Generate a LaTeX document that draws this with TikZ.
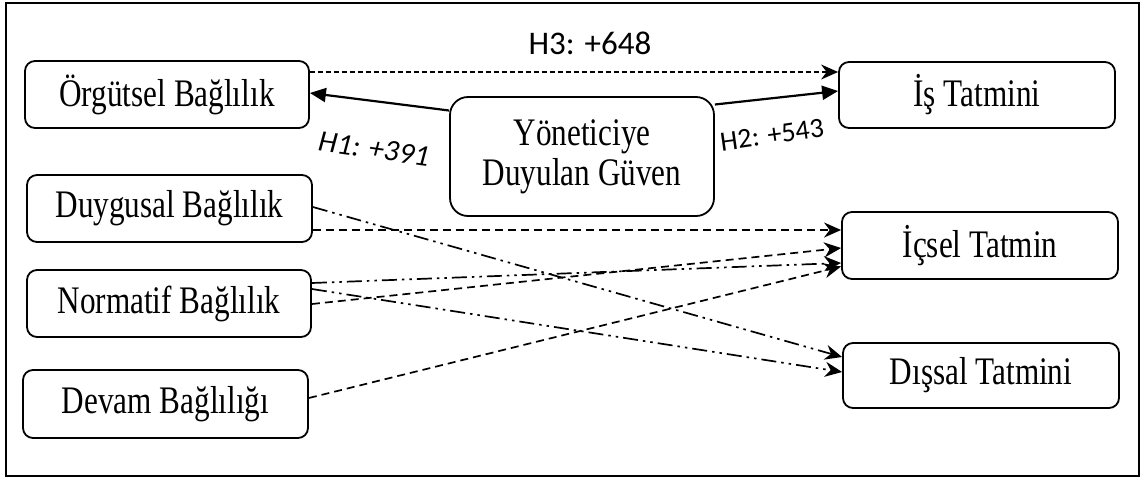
\documentclass[tikz,border=0pt]{standalone}
\usepackage{fontspec}
\setmainfont{Liberation Serif}
\newfontfamily\lblfont{Carlito}
\usetikzlibrary{arrows.meta}
\newcommand{\sq}[1]{\scalebox{0.8}[1]{#1}}
\begin{document}
\begin{tikzpicture}[x=1pt,y=-1pt,
  box/.style={draw,line width=1.8pt,rounded corners=10pt,inner sep=0pt,
    font=\fontsize{39}{40}\selectfont,align=center},
  solidarrow/.style={line width=2.2pt,-{Triangle[length=16pt,width=14pt]}},
  dasharrow/.style={line width=1.7pt,dash pattern=on 8pt off 5pt,-{Stealth[length=17pt,width=15pt]}},
  dotarrow/.style={line width=1.7pt,dash pattern=on 15pt off 5pt on 2.5pt off 5pt on 2.5pt off 5pt,-{Stealth[length=17pt,width=15pt]}},
  lbl/.style={font=\lblfont,inner sep=0pt}]
\useasboundingbox (0,0) rectangle (1144,480);
\draw[line width=2.4pt] (6,3) rectangle (1139,476);
% nodes
\node[box,minimum width=284pt,minimum height=67pt] (org) at (167,94.5) {\sq{Örgütsel Bağlılık}};
\node[box,minimum width=276pt,minimum height=66pt] (is) at (977,95) {\sq{İş Tatmini}};
\node[box,minimum width=264pt,minimum height=119pt,rounded corners=18pt] (yon) at (582,156.5) {\sq{Yöneticiye}\\[0pt]\sq{Duyulan Güven}};
\node[box,minimum width=285pt,minimum height=67pt] (duy) at (169.5,208.5) {\sq{Duygusal Bağlılık}};
\node[box,minimum width=284pt,minimum height=67pt] (nor) at (169,303.5) {\sq{Normatif Bağlılık}};
\node[box,minimum width=285pt,minimum height=68pt] (dev) at (165.5,404) {\sq{Devam Bağlılığı}};
\node[box,minimum width=276pt,minimum height=67pt] (ics) at (980,245.5) {\sq{İçsel Tatmin}};
\node[box,minimum width=276pt,minimum height=65pt] (dis) at (981,375.5) {\sq{Dışsal Tatmini}};
% H arrows
\draw[dasharrow,line width=1.3pt,dash pattern=on 5pt off 3pt] ([yshift=22.5pt]org.east) -- ([yshift=23pt]is.west);
\draw[solidarrow] ([yshift=46pt]yon.west) -- ([yshift=1.5pt]org.east);
\draw[solidarrow] ([yshift=52pt]yon.east) -- ([yshift=4pt]is.west);
\node[lbl,font=\lblfont\fontsize{33}{36}\selectfont] (h3) at (590,43) {H3: +648};
\node[lbl,font=\lblfont\fontsize{30}{36}\selectfont\itshape,rotate=-8] (h1) at (374,149) {H1: +391};
\node[lbl,font=\lblfont\fontsize{28}{36}\selectfont,rotate=8] (h2) at (772,135) {H2: +543};
% other arrows
\draw[dasharrow] ([yshift=-21.5pt]duy.east) -- ([yshift=15.5pt]ics.west);
\draw[dotarrow] ([yshift=1.5pt]duy.east) -- ([yshift=18.5pt]dis.west);
\draw[dotarrow] ([yshift=20.5pt]nor.east) -- ([yshift=-17.5pt]ics.west);
\draw[dasharrow] ([yshift=-0.5pt]nor.east) -- ([yshift=-2.5pt]ics.west);
\draw[dotarrow] ([yshift=14.5pt]nor.east) -- ([yshift=3.5pt]dis.west);
\draw[dasharrow] ([yshift=6pt]dev.east) -- ([yshift=-21pt]ics.west);
\end{tikzpicture}
\end{document}
